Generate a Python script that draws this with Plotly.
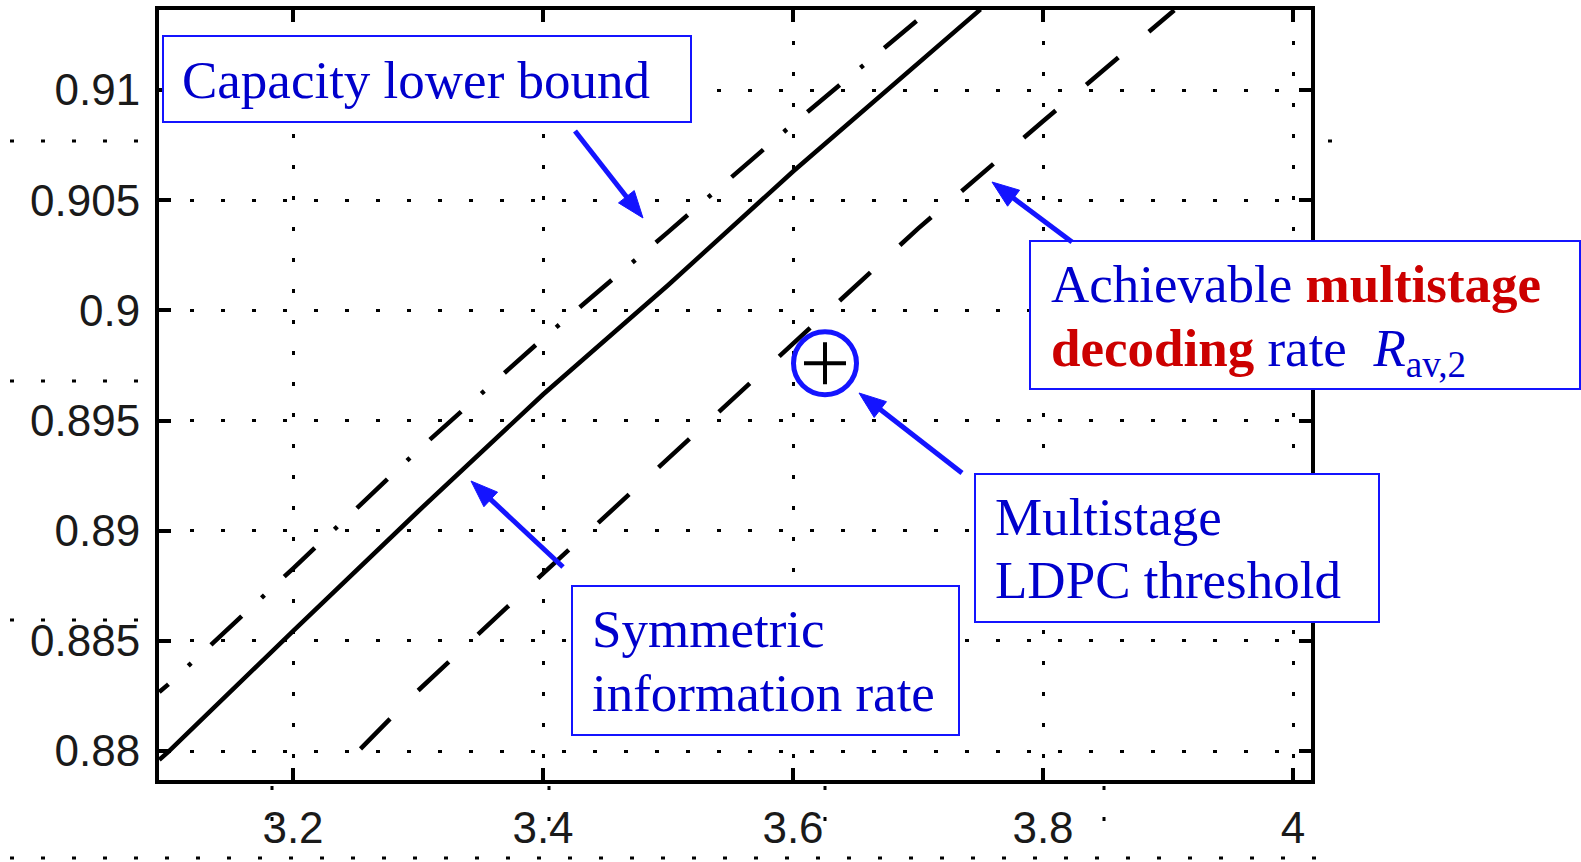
import math
import plotly.graph_objects as go

# ---------------- data ----------------
x_range = [3.0928, 4.0144]
y_range = [0.878684, 0.913631]

x_ticks = [3.2, 3.4, 3.6, 3.8, 4.0]
x_tick_labels = ["3.2", "3.4", "3.6", "3.8", "4"]
y_ticks = [0.88, 0.885, 0.89, 0.895, 0.9, 0.905, 0.91]
y_tick_labels = ["0.88", "0.885", "0.89", "0.895", "0.9", "0.905", "0.91"]

# Capacity lower bound (dash-dot)
snr_cap = [3.093, 3.1, 3.2, 3.3, 3.4, 3.5, 3.6, 3.7, 3.71]
rate_cap = [0.88268, 0.88301, 0.88828, 0.89365, 0.89872, 0.90355, 0.90846, 0.91318, 0.91366]

# Symmetric information rate (solid)
snr_sir = [3.093, 3.1, 3.2, 3.3, 3.4, 3.5, 3.6, 3.7, 3.75]
rate_sir = [0.8796, 0.87995, 0.88544, 0.89087, 0.89618, 0.90114, 0.9063, 0.9112, 0.91366]

# Achievable multistage decoding rate R_av,2 (dashed)
snr_msd = [3.254, 3.3, 3.4, 3.5, 3.6, 3.7, 3.8, 3.9, 3.905]
rate_msd = [0.8801, 0.88274, 0.88805, 0.89328, 0.89848, 0.90371, 0.90858, 0.91338, 0.91362]

# Multistage LDPC threshold
thr_snr = [3.6256]
thr_rate = [0.8976]

# ---------------- layout geometry ----------------
W, H = 1581, 862
ML, MR, MT, MB = 159, 270, 10, 82
PW, PH = W - ML - MR, H - MT - MB


def px(xp):
    return (xp - ML) / PW


def py(yp):
    return (H - MB - yp) / PH


BLUE_TXT = "#0000cc"
BLUE_LINE = "#1414ff"
RED = "#cc0000"
SERIF = "Liberation Serif"

dashdot = "12px,27px,4px,27px," + ",".join(["42px,27px,4px,27px"] * 12)
dashed = "42px,40px"

fig = go.Figure()
fig.add_trace(go.Scatter(x=snr_cap, y=rate_cap, mode="lines",
                         line=dict(color="black", width=4.5, dash=dashdot),
                         name="Capacity lower bound"))
fig.add_trace(go.Scatter(x=snr_sir, y=rate_sir, mode="lines",
                         line=dict(color="black", width=4.5),
                         name="Symmetric information rate"))
fig.add_trace(go.Scatter(x=snr_msd, y=rate_msd, mode="lines",
                         line=dict(color="black", width=4.5, dash=dashed),
                         name="Achievable multistage decoding rate"))
fig.add_trace(go.Scatter(x=thr_snr, y=thr_rate, mode="markers",
                         marker=dict(symbol="circle-open", size=63, color=BLUE_LINE,
                                     line=dict(color=BLUE_LINE, width=5)),
                         name="threshold circle"))
fig.add_trace(go.Scatter(x=thr_snr, y=thr_rate, mode="markers",
                         marker=dict(symbol="cross-thin-open", size=30, color="black",
                                     line=dict(color="black", width=4)),
                         name="Multistage LDPC threshold"))

axis_common = dict(
    showline=True, linecolor="black", linewidth=4, mirror="ticks",
    ticks="inside", ticklen=12, tickwidth=3.5, tickcolor="black",
    showgrid=True, gridcolor="black", gridwidth=3, griddash="4px,27px",
    zeroline=False, automargin=False,
    tickfont=dict(family="Liberation Sans", size=44, color="#1a1a1a"),
)

fig.update_xaxes(range=x_range, tickvals=x_ticks, ticktext=x_tick_labels,
                 ticklabelstandoff=6, **axis_common)
fig.update_yaxes(range=y_range, tickvals=y_ticks, ticktext=y_tick_labels,
                 ticklabelstandoff=6, **axis_common)

shapes = []
# annotation boxes (pixel rectangles -> paper)
boxes = [(163, 36, 691, 122), (1030, 241, 1580, 389), (975, 474, 1379, 622), (572, 586, 959, 735)]
for (x0, y0, x1, y1) in boxes:
    shapes.append(dict(type="rect", xref="paper", yref="paper",
                       x0=px(x0), x1=px(x1), y0=py(y1), y1=py(y0),
                       line=dict(color=BLUE_LINE, width=2), fillcolor="white", layer="above"))

# scan artefacts: stray dotted lines outside the axes
stray = [(10, 141, 150, 141), (1328, 141, 1336, 141), (10, 381, 150, 381), (10, 620, 150, 620),
         (10, 858, 1328, 858), (272, 786, 272, 836), (549, 786, 549, 836),
         (825, 786, 825, 836), (1104, 786, 1104, 836)]
for (x0, y0, x1, y1) in stray:
    shapes.append(dict(type="line", xref="paper", yref="paper",
                       x0=px(x0), x1=px(x1), y0=py(y0), y1=py(y1),
                       line=dict(color="black", width=3, dash="4px,27px")))

# blue arrows (tip, tail) drawn as a shaft plus a filled head
arrows = [((643, 218), (575, 131)), ((992, 182), (1072, 242)),
          ((859, 393), (962, 473)), ((471, 481), (563, 567))]
HEAD_L, HEAD_W = 27, 10
for (tx, ty), (sx, sy) in arrows:
    L = math.hypot(tx - sx, ty - sy)
    dx, dy = (tx - sx) / L, (ty - sy) / L
    bx, by = tx - HEAD_L * dx, ty - HEAD_L * dy
    nx, ny = -dy, dx
    shapes.append(dict(type="line", xref="paper", yref="paper",
                       x0=px(sx), y0=py(sy), x1=px(bx + 2 * dx), y1=py(by + 2 * dy),
                       line=dict(color=BLUE_LINE, width=5), layer="above"))
    c1 = (bx + HEAD_W * nx, by + HEAD_W * ny)
    c2 = (bx - HEAD_W * nx, by - HEAD_W * ny)
    path = "M{:.5f},{:.5f} L{:.5f},{:.5f} L{:.5f},{:.5f} Z".format(
        px(tx), py(ty), px(c1[0]), py(c1[1]), px(c2[0]), py(c2[1]))
    shapes.append(dict(type="path", xref="paper", yref="paper", path=path,
                       fillcolor=BLUE_LINE, line=dict(color=BLUE_LINE, width=1), layer="above"))

annotations = []
texts = [
    ("Capacity lower bound", 180, 79.6),
    ("Achievable <span style='color:%s'><b>multistage</b></span>" % RED, 1049, 283.8),
    ("<span style='color:%s'><b>decoding</b></span> rate&nbsp; <i>R</i><sub>av,2</sub>" % RED, 1049, 352.4),
    ("Multistage", 993, 517.1),
    ("LDPC threshold", 993, 580.1),
    ("Symmetric", 590, 629.1),
    ("information rate", 590, 693.1),
]
for t, xp, yp in texts:
    annotations.append(dict(text=t, xref="paper", yref="paper", x=px(xp), y=py(yp),
                            xanchor="left", yanchor="middle", showarrow=False,
                            font=dict(family=SERIF, size=53, color=BLUE_TXT)))

fig.update_layout(
    width=W, height=H, autosize=False,
    margin=dict(l=ML, r=MR, t=MT, b=MB, pad=0, autoexpand=False),
    plot_bgcolor="white", paper_bgcolor="white",
    showlegend=False,
    shapes=shapes, annotations=annotations,
)

fig.write_html("out.html", config={"displayModeBar": False},
               post_script="document.body.style.margin='0';document.body.style.overflow='hidden';")
